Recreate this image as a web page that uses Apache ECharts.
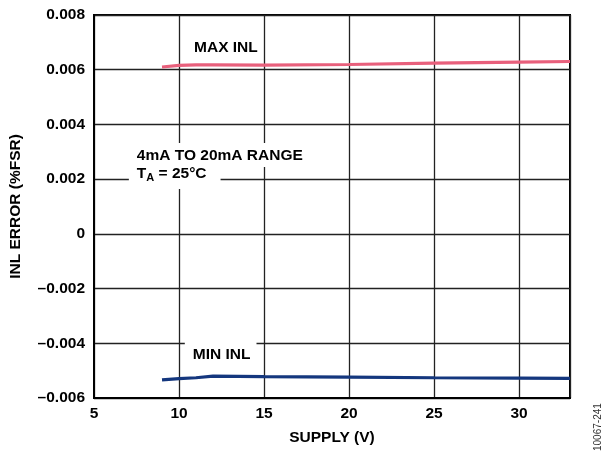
<!DOCTYPE html>
<html>
<head>
<meta charset="utf-8">
<script src="https://cdn.jsdelivr.net/npm/echarts@6/dist/echarts.min.js"></script>
<style>html,body{margin:0;padding:0;background:#fff}#c{width:611px;height:455px}</style>
</head>
<body>
<div id="c"></div>
<script>
var supply = [9, 10, 11, 12, 15, 20, 25, 30, 33];
var maxInl = [0.0061, 0.00616, 0.00618, 0.00618, 0.00617, 0.00619, 0.00624, 0.00628, 0.0063];
var minInl = [-0.00534, -0.00529, -0.00526, -0.0052, -0.00522, -0.00524, -0.00526, -0.00527, -0.00528];
var xTicks = [5, 10, 15, 20, 25, 30];
var yTicks = [-0.006, -0.004, -0.002, 0, 0.002, 0.004, 0.006, 0.008];
var annText = ['MAX INL', 'MIN INL', '4mA TO 20mA RANGE', '{t|T}{s|A}{t| = 25°C}'];
var annX = [12.76, 12.45, 7.05, 7.05];
var annY = [0.00679, -0.00437, 0.00288, 0.00213];

var FONT = 'Liberation Sans, Arial, sans-serif';
var FS = 15.5;
var chart = echarts.init(document.getElementById('c'), null, {renderer: 'canvas'});

function fmtY(v) {
  if (Math.abs(v) < 1e-9) return '0';
  return (v < 0 ? '\u2013' : '') + Math.abs(v).toFixed(3);
}

var annData = annX.map(function (x, i) { return [x, annY[i]]; });

chart.setOption({
  animation: false,
  grid: {left: 92, right: 41, top: 15, bottom: 57, show: true, borderColor: '#000', borderWidth: 2, backgroundColor: 'transparent'},
  xAxis: {
    type: 'value', min: 5, max: 33, interval: 5,
    name: 'SUPPLY (V)', nameLocation: 'middle', nameGap: 32,
    nameTextStyle: {fontFamily: FONT, fontWeight: 'bold', fontSize: FS, color: '#000'},
    axisLine: {show: true, onZero: false, lineStyle: {color: '#000', width: 2}},
    axisTick: {show: false},
    axisLabel: {showMaxLabel: false, fontFamily: FONT, fontWeight: 'bold', fontSize: FS, color: '#000', margin: 8,
      formatter: function (v) { return xTicks.indexOf(v) >= 0 ? String(v) : ''; }},
    splitLine: {show: true, lineStyle: {color: '#222', width: 1.3}}
  },
  yAxis: {
    type: 'value', min: -0.006, max: 0.008, interval: 0.002,
    name: 'INL ERROR (%FSR)', nameLocation: 'middle', nameGap: 70,
    nameTextStyle: {fontFamily: FONT, fontWeight: 'bold', fontSize: FS, color: '#000'},
    axisLine: {show: true, onZero: false, lineStyle: {color: '#000', width: 2}},
    axisTick: {show: false},
    axisLabel: {fontFamily: FONT, fontWeight: 'bold', fontSize: FS, color: '#000', margin: 9, formatter: fmtY},
    splitLine: {show: true, lineStyle: {color: '#222', width: 1.3}}
  },
  series: [
    {
      type: 'scatter', symbolSize: 0, z: 3, silent: true,
      itemStyle: {color: '#fff', opacity: 0},
      label: {
        show: true, position: 'inside', fontFamily: FONT, fontWeight: 'bold', fontSize: FS, color: '#000',
        textBorderWidth: 0, textBorderColor: 'transparent', opacity: 1,
        backgroundColor: '#fff',
        formatter: function (p) { return annText[p.dataIndex]; },
        rich: {
          t: {fontFamily: FONT, fontWeight: 'bold', fontSize: FS, color: '#000', lineHeight: 18, textBorderWidth: 0},
          s: {fontFamily: FONT, fontWeight: 'bold', fontSize: 11, color: '#000', verticalAlign: 'bottom', padding: [9, 0, 0, 0], lineHeight: 18, textBorderWidth: 0}
        }
      },
      data: [
        {value: annData[0], label: {padding: [3, 4, 3, 4]}},
        {value: annData[1], label: {padding: [7, 6, 4, 8]}},
        {value: annData[2], label: {align: 'left', padding: [5, 6, 3, 8]}},
        {value: annData[3], label: {align: 'left', padding: [3, 14, 6, 8]}}
      ]
    },
    {
      name: 'MAX INL', type: 'line', data: supply.map(function (x, i) { return [x, maxInl[i]]; }),
      showSymbol: false, symbol: 'none', z: 4, lineStyle: {color: '#e8607c', width: 3.2}
    },
    {
      name: 'MIN INL', type: 'line', data: supply.map(function (x, i) { return [x, minInl[i]]; }),
      showSymbol: false, symbol: 'none', z: 4, lineStyle: {color: '#14377e', width: 3.2}
    }
  ],
  graphic: [{
    type: 'text', x: 593, y: 451, rotation: Math.PI / 2,
    style: {text: '10067-241', fontFamily: FONT, fontSize: 10, fill: '#333', textAlign: 'left', textVerticalAlign: 'top'}
  }]
});
</script>
</body>
</html>
